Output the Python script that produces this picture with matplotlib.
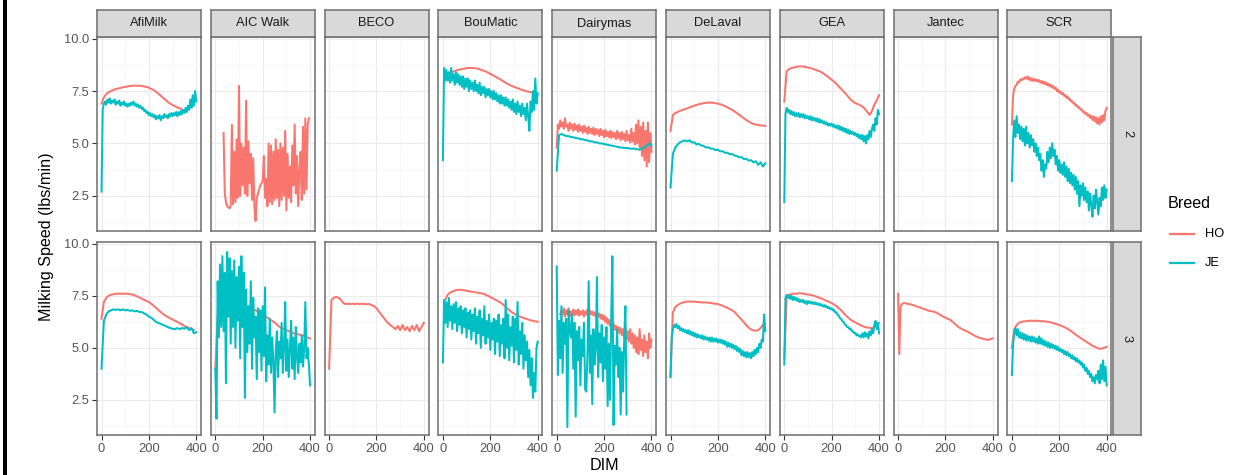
import numpy as np
import matplotlib
matplotlib.use('Agg')
import matplotlib.pyplot as plt
from matplotlib.lines import Line2D
from matplotlib.patches import Rectangle

plt.rcParams['font.family'] = ['Liberation Sans', 'DejaVu Sans']

# ---- data ----
brands = ['AfiMilk', 'AIC Walk', 'BECO', 'BouMatic', 'Dairymas', 'DeLaval', 'GEA', 'Jantec', 'SCR']
parities = ['2', '3']
breed_colors = {'HO': '#F8766D', 'JE': '#00BFC4'}

x_ticks = [0, 200, 400]
y_ticks = [2.5, 5.0, 7.5, 10.0]

dim10 = [0, 10, 20, 30, 40, 50, 60, 70, 80, 90,
         100, 110, 120, 130, 140, 150, 160, 170, 180, 190,
         200, 210, 220, 230, 240, 250, 260, 270, 280, 290,
         300, 310, 320, 330, 340, 350, 360, 370, 380, 390,
         400]
dim5 = [0, 5, 10, 15, 20, 25, 30, 35, 40, 45,
        50, 55, 60, 65, 70, 75, 80, 85, 90, 95,
        100, 105, 110, 115, 120, 125, 130, 135, 140, 145,
        150, 155, 160, 165, 170, 175, 180, 185, 190, 195,
        200, 205, 210, 215, 220, 225, 230, 235, 240, 245,
        250, 255, 260, 265, 270, 275, 280, 285, 290, 295,
        300, 305, 310, 315, 320, 325, 330, 335, 340, 345,
        350, 355, 360, 365, 370, 375, 380, 385, 390, 395,
        400]

# parity 2
afimilk_p2_ho = [6.9, 7.2, 7.35, 7.45, 7.5, 7.55, 7.6, 7.62, 7.65, 7.68,
                 7.7, 7.72, 7.74, 7.75, 7.76, 7.75, 7.76, 7.74, 7.72, 7.7,
                 7.66, 7.6, 7.55, 7.47, 7.38, 7.28, 7.18, 7.08, 6.98, 6.9,
                 6.83, 6.78, 6.72, 6.68, 6.62, 6.55, None, None, None, None,
                 None]
afimilk_p2_je = [2.7, 6.6, 6.9, 7.0, 6.85, 7.1, 6.95, 7.15, 6.9, 7.05,
                 6.95, 7.1, 6.85, 7.0, 6.9, 7.05, 6.8, 6.95, 6.85, 7.0,
                 6.8, 6.9, 6.75, 6.9, 6.8, 6.95, 6.85, 7.0, 6.8, 6.9,
                 6.75, 6.85, 6.7, 6.8, 6.65, 6.7, 6.55, 6.6, 6.45, 6.5,
                 6.35, 6.45, 6.3, 6.4, 6.25, 6.35, 6.15, 6.3, 6.2, 6.35,
                 6.1, 6.3, 6.2, 6.4, 6.25, 6.35, 6.2, 6.4, 6.3, 6.45,
                 6.3, 6.45, 6.35, 6.5, 6.3, 6.5, 6.35, 6.55, 6.4, 6.6,
                 6.45, 6.7, 6.5, 6.8, 6.6, 7.1, 6.7, 7.3, 6.8, 7.5,
                 7.0]
aicwalk_p2_ho = [None, None, None, None, None, None, None, 5.5, 2.6, 2.2,
                 2.0, 1.95, 1.9, 2.0, 5.9, 2.1, 4.6, 2.2, 5.2, 2.4,
                 7.75, 2.5, 5.0, 3.0, 4.8, 2.6, 7.05, 2.5, 5.1, 3.1,
                 4.5, 2.3, 4.3, 2.0, 1.3, 2.4, 2.6, 2.8, 3.0, 3.1,
                 3.2, 4.4, 2.4, 3.3, 2.0, 5.0, 2.2, 4.9, 2.1, 4.6,
                 2.3, 5.2, 2.4, 4.7, 2.0, 5.0, 2.3, 4.8, 2.5, 5.6,
                 1.8, 4.5, 2.4, 3.9, 2.2, 4.9, 3.0, 5.9, 2.6, 4.4,
                 2.0, 3.7, 4.6, 2.3, 5.8, 2.6, 6.2, 2.8, 5.9, 6.2,
                 None]
boumatic_p2_ho = [None, 8.2, 8.3, 8.35, 8.4, 8.45, 8.5, 8.52, 8.55, 8.57,
                  8.6, 8.6, 8.6, 8.6, 8.58, 8.56, 8.52, 8.48, 8.44, 8.38,
                  8.32, 8.26, 8.2, 8.13, 8.07, 8.0, 7.93, 7.86, 7.8, 7.75,
                  7.7, 7.66, 7.62, 7.57, 7.54, 7.5, 7.47, 7.45, 7.42, 7.4,
                  None]
boumatic_p2_je = [4.2, 8.6, 8.0, 8.5, 8.0, 8.4, 7.9, 8.6, 8.0, 8.3,
                  7.8, 8.4, 7.9, 8.3, 7.8, 8.2, 7.7, 8.2, 7.6, 8.1,
                  7.7, 8.1, 7.5, 8.0, 7.6, 7.9, 7.5, 8.0, 7.5, 7.8,
                  7.4, 7.9, 7.3, 7.7, 7.4, 7.7, 7.2, 7.6, 7.3, 7.6,
                  7.2, 7.5, 7.1, 7.5, 7.1, 7.4, 7.0, 7.3, 6.9, 7.3,
                  6.9, 7.2, 6.8, 7.2, 6.8, 7.1, 6.7, 7.0, 6.6, 7.1,
                  6.5, 6.9, 6.4, 7.0, 6.5, 6.8, 6.3, 6.9, 6.4, 6.7,
                  6.1, 6.9, 6.3, 5.6, 7.0, 6.5, 7.5, 6.6, 8.1, 6.9,
                  7.4]
dairymas_p2_ho = [4.8, 5.9, 5.7, 6.1, 5.8, 6.0, 5.7, 6.2, 5.8, 5.9,
                  5.6, 6.0, 5.7, 5.9, 5.6, 5.95, 5.65, 5.85, 5.55, 5.9,
                  5.6, 5.8, 5.5, 5.85, 5.55, 5.75, 5.45, 5.8, 5.5, 5.7,
                  5.45, 5.75, 5.4, 5.7, 5.45, 5.65, 5.35, 5.7, 5.4, 5.6,
                  5.3, 5.65, 5.35, 5.55, 5.3, 5.6, 5.25, 5.55, 5.3, 5.5,
                  5.2, 5.6, 5.25, 5.5, 5.15, 5.55, 5.2, 5.45, 5.1, 5.6,
                  5.15, 5.4, 5.05, 5.7, 5.1, 5.5, 4.95, 5.9, 5.0, 6.1,
                  4.8, 5.8, 4.4, 6.0, 4.2, 5.6, 3.9, 6.0, 4.1, 5.5,
                  4.6]
dairymas_p2_je = [3.7, 5.4, 5.45, 5.4, 5.35, 5.35, 5.3, 5.3, 5.25, 5.25,
                  5.2, 5.2, 5.15, 5.15, 5.1, 5.1, 5.05, 5.05, 5.0, 5.0,
                  4.97, 4.95, 4.92, 4.9, 4.88, 4.85, 4.83, 4.8, 4.8, 4.78,
                  4.78, 4.75, 4.75, 4.75, 4.72, 4.7, 4.75, 4.8, 4.9, 5.0,
                  4.9]
delaval_p2_ho = [5.6, 6.35, 6.45, 6.5, 6.55, 6.6, 6.63, 6.67, 6.72, 6.76,
                 6.8, 6.84, 6.87, 6.9, 6.92, 6.94, 6.95, 6.95, 6.94, 6.92,
                 6.9, 6.87, 6.83, 6.78, 6.72, 6.66, 6.6, 6.53, 6.45, 6.37,
                 6.28, 6.2, 6.12, 6.05, 5.98, 5.93, 5.9, 5.88, 5.86, 5.85,
                 5.84]
delaval_p2_je = [2.9, 4.5, 4.8, 4.95, 5.05, 5.1, 5.15, 5.1, 5.15, 5.05,
                 5.05, 4.95, 4.98, 4.9, 4.88, 4.8, 4.82, 4.75, 4.75, 4.68,
                 4.7, 4.62, 4.63, 4.55, 4.56, 4.48, 4.5, 4.42, 4.4, 4.33,
                 4.35, 4.25, 4.27, 4.18, 4.2, 4.1, 4.15, 3.98, 4.1, 3.9,
                 4.05]
gea_p2_ho = [7.0, 8.45, 8.55, 8.6, 8.62, 8.65, 8.67, 8.68, 8.67, 8.65,
             8.62, 8.6, 8.56, 8.52, 8.48, 8.44, 8.38, 8.3, 8.22, 8.13,
             8.04, 7.95, 7.84, 7.72, 7.6, 7.48, 7.36, 7.23, 7.1, 7.0,
             6.92, 6.88, 6.82, 6.76, 6.65, 6.5, 6.36, 6.55, 6.85, 7.05,
             7.3]
gea_p2_je = [2.2, 6.4, 6.7, 6.5, 6.6, 6.4, 6.55, 6.35, 6.5, 6.3,
             6.45, 6.3, 6.45, 6.25, 6.4, 6.25, 6.4, 6.2, 6.35, 6.2,
             6.3, 6.15, 6.3, 6.1, 6.25, 6.1, 6.2, 6.05, 6.2, 6.0,
             6.15, 6.0, 6.1, 5.95, 6.05, 5.9, 6.0, 5.85, 5.95, 5.85,
             5.95, 5.8, 5.9, 5.75, 5.85, 5.7, 5.85, 5.65, 5.8, 5.6,
             5.75, 5.55, 5.7, 5.5, 5.65, 5.45, 5.6, 5.45, 5.55, 5.4,
             5.5, 5.35, 5.45, 5.25, 5.4, 5.2, 5.4, 5.1, 5.35, 5.0,
             5.4, 5.2, 5.6, 5.3, 5.7, 5.9, 5.6, 6.2, 5.9, 6.6,
             6.4]
scr_p2_ho = [5.9, 7.3, 7.6, 7.75, 7.8, 7.95, 7.9, 8.05, 8.0, 8.1,
             8.05, 8.15, 8.1, 8.2, 8.05, 8.15, 8.0, 8.1, 7.98, 8.08,
             7.97, 8.05, 7.95, 8.02, 7.9, 7.98, 7.86, 7.95, 7.82, 7.9,
             7.78, 7.85, 7.72, 7.8, 7.66, 7.74, 7.6, 7.66, 7.5, 7.56,
             7.42, 7.48, 7.35, 7.4, 7.27, 7.32, 7.18, 7.24, 7.1, 7.12,
             7.0, 7.02, 6.9, 6.92, 6.8, 6.82, 6.7, 6.72, 6.6, 6.62,
             6.5, 6.52, 6.4, 6.45, 6.32, 6.38, 6.22, 6.32, 6.12, 6.3,
             6.05, 6.25, 5.95, 6.2, 5.9, 6.3, 6.0, 6.35, 6.1, 6.55,
             6.7]
scr_p2_je = [3.2, 5.2, 6.1, 5.3, 6.3, 5.5, 5.9, 5.2, 5.8, 5.1,
             5.7, 4.9, 5.8, 5.0, 5.5, 4.8, 5.4, 4.9, 5.2, 4.6,
             5.0, 4.4, 4.8, 4.2, 4.5, 3.7, 4.2, 3.4, 4.0, 3.8,
             4.6, 4.1, 4.8, 4.3, 5.0, 4.4, 4.7, 4.0, 4.4, 3.7,
             4.2, 3.6, 4.0, 3.5, 4.1, 3.4, 3.9, 3.2, 3.8, 3.1,
             3.6, 3.0, 3.5, 2.8, 3.4, 2.6, 3.2, 2.0, 3.0, 2.5,
             3.1, 2.3, 2.9, 2.2, 2.7, 1.8, 2.6, 2.1, 1.5, 2.5,
             1.9, 2.8, 2.2, 1.6, 2.4, 2.0, 2.9, 2.3, 3.0, 2.4,
             2.8]

# parity 3
afimilk_p3_ho = [6.4, 7.2, 7.4, 7.5, 7.55, 7.57, 7.6, 7.6, 7.6, 7.6,
                 7.6, 7.6, 7.58, 7.56, 7.52, 7.47, 7.42, 7.36, 7.3, 7.25,
                 7.2, 7.12, 7.02, 6.92, 6.82, 6.72, 6.63, 6.55, 6.48, 6.42,
                 6.36, 6.3, 6.25, 6.18, 6.12, 6.05, 6.0, 5.95, 5.9, 5.85,
                 None]
afimilk_p3_je = [4.0, 6.3, 6.6, 6.75, 6.8, 6.85, 6.82, 6.85, 6.8, 6.85,
                 6.8, 6.82, 6.78, 6.8, 6.75, 6.78, 6.72, 6.72, 6.65, 6.6,
                 6.5, 6.45, 6.35, 6.25, 6.2, 6.15, 6.1, 6.05, 6.0, 5.95,
                 5.92, 5.9, 5.95, 5.9, 5.95, 5.92, 6.0, 5.85, 5.95, 5.7,
                 5.75]
aicwalk_p3_ho = [4.0, 6.5, 7.2, 7.4, 7.45, 7.4, 7.35, 7.3, 7.25, 7.2,
                 7.15, 7.1, 7.05, 7.0, 6.95, 6.9, 6.85, 6.8, 6.72, 6.67,
                 6.6, 6.52, 6.45, 6.37, 6.3, 6.22, 6.12, 6.02, 5.95, 5.9,
                 5.85, 5.8, 5.75, 5.7, 5.68, 5.65, 5.62, 5.6, 5.55, 5.5,
                 5.45]
aicwalk_p3_je = [4.0, 1.6, 8.2, 5.5, 9.0, 6.0, 9.4, 5.8, 8.6, 3.3,
                 9.6, 6.5, 9.3, 5.2, 8.7, 6.0, 9.2, 5.0, 8.4, 6.3,
                 8.9, 4.5, 9.4, 6.0, 8.6, 2.6, 7.8, 4.8, 7.0, 5.2,
                 8.2, 4.0, 7.4, 5.5, 6.5, 3.5, 6.9, 4.8, 6.8, 3.9,
                 7.0, 4.6, 7.9, 3.4, 5.6, 4.2, 6.4, 3.8, 5.5, 4.4,
                 1.9, 4.8, 5.8, 3.6, 5.3, 4.5, 6.2, 3.8, 5.0, 7.2,
                 3.9, 5.4, 3.6, 4.9, 6.3, 4.0, 5.5, 3.5, 6.0, 4.6,
                 3.8, 5.2, 4.3, 5.6, 4.1, 4.9, 7.2, 4.5, 5.0, 4.2,
                 3.2]
beco_p3_ho = [4.0, 7.3, 7.4, 7.45, 7.4, 7.3, 7.15, 7.1, 7.12, 7.1,
              7.12, 7.1, 7.12, 7.1, 7.12, 7.1, 7.1, 7.1, 7.05, 7.0,
              6.9, 6.75, 6.6, 6.45, 6.3, 6.18, 6.08, 6.0, 5.9, 6.05,
              5.85, 6.1, 5.85, 6.0, 5.8, 6.05, 5.85, 6.1, 5.8, 6.0,
              6.2]
boumatic_p3_ho = [None, 7.3, 7.55, 7.65, 7.7, 7.75, 7.78, 7.79, 7.78, 7.76,
                  7.74, 7.72, 7.7, 7.68, 7.66, 7.64, 7.62, 7.6, 7.55, 7.5,
                  7.44, 7.38, 7.32, 7.26, 7.2, 7.12, 7.02, 6.92, 6.82, 6.72,
                  6.65, 6.58, 6.52, 6.48, 6.44, 6.4, 6.36, 6.32, 6.3, 6.27,
                  6.25]
boumatic_p3_je = [4.3, 7.3, 6.2, 7.2, 6.0, 7.4, 6.3, 7.0, 5.9, 7.1,
                  6.2, 7.2, 5.8, 6.9, 6.1, 7.0, 5.7, 6.8, 6.0, 6.9,
                  5.5, 6.7, 5.9, 6.8, 5.4, 6.6, 5.8, 6.9, 5.2, 6.5,
                  5.7, 6.8, 5.0, 6.4, 5.6, 7.0, 5.2, 6.3, 5.5, 6.6,
                  4.9, 6.2, 5.4, 6.4, 4.7, 6.3, 5.3, 6.6, 4.6, 6.1,
                  5.2, 6.4, 4.5, 7.3, 5.0, 6.6, 4.4, 6.0, 5.1, 6.5,
                  4.3, 6.4, 4.9, 7.2, 4.2, 5.8, 4.7, 6.2, 4.0, 5.6,
                  4.4, 5.3, 3.6, 4.9, 3.2, 4.5, 2.6, 3.8, 2.9, 5.0,
                  5.3]
dairymas_p3_ho = [None, None, None, 6.6, 6.8, 6.6, 6.9, 6.5, 6.8, 6.6,
                  6.9, 6.5, 6.75, 6.6, 6.85, 6.55, 6.8, 6.6, 6.85, 6.55,
                  6.75, 6.6, 6.8, 6.5, 6.75, 6.6, 6.85, 6.55, 6.8, 6.6,
                  6.75, 6.55, 6.7, 6.5, 6.7, 6.5, 6.65, 6.4, 6.6, 6.35,
                  6.55, 6.25, 6.45, 6.15, 6.35, 6.05, 6.25, 5.95, 6.15, 5.85,
                  6.05, 5.8, 6.0, 5.7, 5.95, 5.6, 5.9, 5.5, 6.0, 5.4,
                  5.8, 5.3, 5.9, 5.2, 5.7, 5.0, 5.6, 4.8, 5.5, 4.7,
                  5.9, 4.9, 5.4, 4.6, 5.6, 4.8, 5.3, 4.5, 5.7, 5.0,
                  5.4]
dairymas_p3_je = [8.9, 3.7, 6.3, 4.5, 7.0, 3.8, 6.2, 5.2, 6.4, 1.2,
                  6.8, 6.0, 5.5, 6.6, 4.0, 6.2, 1.7, 5.8, 4.4, 6.0,
                  3.2, 5.4, 4.6, 6.2, 3.0, 2.9, 4.8, 8.2, 3.8, 5.6,
                  2.3, 5.9, 4.2, 5.0, 8.4, 3.6, 5.7, 4.3, 6.1, 3.4,
                  5.5, 4.0, 6.0, 2.2, 5.2, 2.5, 6.4, 9.4, 1.3, 5.1,
                  4.2, 5.9, 3.6, 5.0, 1.8, 4.8, 2.9, 5.5, 7.0, 1.8,
                  None, None, None, None, None, None, None, None, None, None,
                  None, None, None, None, None, None, None, None, None, None,
                  None]
delaval_p3_ho = [3.6, 6.7, 6.95, 7.05, 7.12, 7.17, 7.2, 7.22, 7.22, 7.22,
                 7.22, 7.2, 7.2, 7.18, 7.18, 7.18, 7.17, 7.15, 7.13, 7.12,
                 7.1, 7.06, 7.02, 6.97, 6.92, 6.86, 6.8, 6.73, 6.6, 6.47,
                 6.35, 6.22, 6.08, 5.97, 5.88, 5.84, 5.82, 5.85, 5.95, 6.1,
                 None]
delaval_p3_je = [3.6, 5.5, 5.9, 6.1, 6.0, 6.15, 5.95, 6.05, 5.85, 5.95,
                 5.8, 5.9, 5.75, 5.85, 5.7, 5.85, 5.65, 5.8, 5.6, 5.75,
                 5.55, 5.7, 5.5, 5.65, 5.5, 5.6, 5.45, 5.6, 5.4, 5.55,
                 5.4, 5.5, 5.35, 5.5, 5.3, 5.5, 5.3, 5.45, 5.3, 5.45,
                 5.25, 5.4, 5.25, 5.4, 5.2, 5.35, 5.15, 5.3, 5.05, 5.25,
                 5.05, 5.2, 5.0, 5.15, 4.95, 5.1, 4.85, 5.0, 4.8, 4.95,
                 4.65, 4.85, 4.6, 4.8, 4.55, 4.8, 4.55, 4.75, 4.5, 4.8,
                 4.6, 4.9, 4.7, 5.0, 4.8, 5.2, 5.0, 5.4, 5.3, 6.6,
                 5.8]
gea_p3_ho = [4.5, 7.45, 7.55, 7.58, 7.6, 7.6, 7.62, 7.62, 7.6, 7.58,
             7.56, 7.54, 7.52, 7.48, 7.44, 7.4, 7.35, 7.3, 7.25, 7.2,
             7.15, 7.08, 7.0, 6.9, 6.8, 6.68, 6.56, 6.45, 6.35, 6.28,
             6.22, 6.16, 6.1, 6.05, 6.0, 5.98, 5.96, 5.95, 6.0, 6.1,
             6.2]
gea_p3_je = [4.2, 7.4, 7.55, 7.4, 7.5, 7.35, 7.5, 7.3, 7.45, 7.3,
             7.4, 7.25, 7.35, 7.2, 7.3, 7.2, 7.3, 7.15, 7.25, 7.1,
             7.25, 7.15, 7.22, 7.12, 7.2, 7.1, 7.18, 7.08, 7.15, 7.05,
             7.12, 7.02, 7.08, 6.98, 7.05, 6.95, 7.0, 6.9, 6.95, 6.85,
             6.9, 6.8, 6.82, 6.7, 6.7, 6.58, 6.55, 6.42, 6.4, 6.28,
             6.25, 6.12, 6.1, 6.0, 6.0, 5.9, 5.92, 5.8, 5.8, 5.7,
             5.72, 5.6, 5.65, 5.55, 5.6, 5.5, 5.7, 5.5, 5.75, 5.55,
             5.7, 5.45, 5.8, 5.6, 5.9, 5.7, 6.1, 6.3, 5.9, 6.2,
             5.7]
jantec_p3_ho = [7.6, 4.7, 6.95, 7.1, 7.12, 7.15, 7.14, 7.13, 7.12, 7.1,
                7.1, 7.08, 7.06, 7.05, 7.03, 7.0, 6.98, 6.96, 6.95, 6.93,
                6.9, 6.88, 6.86, 6.84, 6.82, 6.8, 6.78, 6.77, 6.76, 6.75,
                6.74, 6.72, 6.7, 6.67, 6.64, 6.6, 6.57, 6.54, 6.5, 6.47,
                6.45, 6.42, 6.4, 6.37, 6.35, 6.3, 6.25, 6.2, 6.15, 6.1,
                6.05, 6.0, 5.97, 5.93, 5.9, 5.87, 5.85, 5.82, 5.8, 5.77,
                5.74, 5.7, 5.67, 5.64, 5.6, 5.57, 5.55, 5.52, 5.5, 5.48,
                5.46, 5.45, 5.43, 5.42, 5.4, 5.4, 5.38, 5.4, 5.42, 5.45,
                5.45]
scr_p3_ho = [5.0, 5.9, 6.1, 6.2, 6.25, 6.27, 6.28, 6.3, 6.3, 6.3,
             6.3, 6.3, 6.28, 6.28, 6.27, 6.25, 6.24, 6.2, 6.17, 6.13,
             6.1, 6.05, 6.0, 5.95, 5.88, 5.8, 5.72, 5.63, 5.55, 5.47,
             5.4, 5.32, 5.25, 5.18, 5.1, 5.05, 5.0, 4.95, 4.97, 5.0,
             5.05]
scr_p3_je = [3.7, 5.2, 5.7, 5.95, 5.6, 5.9, 5.5, 5.75, 5.45, 5.7,
             5.4, 5.65, 5.35, 5.6, 5.35, 5.55, 5.3, 5.55, 5.3, 5.5,
             5.25, 5.45, 5.2, 5.55, 5.2, 5.45, 5.15, 5.35, 5.1, 5.3,
             5.05, 5.25, 5.0, 5.2, 5.0, 5.15, 4.95, 5.1, 4.9, 5.05,
             4.85, 4.95, 4.8, 4.9, 4.7, 4.85, 4.65, 4.8, 4.6, 4.7,
             4.5, 4.65, 4.45, 4.55, 4.35, 4.5, 4.3, 4.4, 4.2, 4.3,
             4.05, 4.2, 3.9, 4.05, 3.75, 3.9, 3.6, 3.75, 3.4, 3.6,
             3.3, 3.7, 3.5, 3.9, 3.3, 4.2, 3.5, 4.4, 3.4, 4.1,
             3.2]

# (brand, parity, breed, DIM grid, speed)
series = [
    ('AfiMilk', '2', 'HO', dim10, afimilk_p2_ho),
    ('AfiMilk', '2', 'JE', dim5, afimilk_p2_je),
    ('AIC Walk', '2', 'HO', dim5, aicwalk_p2_ho),
    ('BouMatic', '2', 'HO', dim10, boumatic_p2_ho),
    ('BouMatic', '2', 'JE', dim5, boumatic_p2_je),
    ('Dairymas', '2', 'HO', dim5, dairymas_p2_ho),
    ('Dairymas', '2', 'JE', dim10, dairymas_p2_je),
    ('DeLaval', '2', 'HO', dim10, delaval_p2_ho),
    ('DeLaval', '2', 'JE', dim10, delaval_p2_je),
    ('GEA', '2', 'HO', dim10, gea_p2_ho),
    ('GEA', '2', 'JE', dim5, gea_p2_je),
    ('SCR', '2', 'HO', dim5, scr_p2_ho),
    ('SCR', '2', 'JE', dim5, scr_p2_je),
    ('AfiMilk', '3', 'HO', dim10, afimilk_p3_ho),
    ('AfiMilk', '3', 'JE', dim10, afimilk_p3_je),
    ('AIC Walk', '3', 'HO', dim10, aicwalk_p3_ho),
    ('AIC Walk', '3', 'JE', dim5, aicwalk_p3_je),
    ('BECO', '3', 'HO', dim10, beco_p3_ho),
    ('BouMatic', '3', 'HO', dim10, boumatic_p3_ho),
    ('BouMatic', '3', 'JE', dim5, boumatic_p3_je),
    ('Dairymas', '3', 'HO', dim5, dairymas_p3_ho),
    ('Dairymas', '3', 'JE', dim5, dairymas_p3_je),
    ('DeLaval', '3', 'HO', dim10, delaval_p3_ho),
    ('DeLaval', '3', 'JE', dim5, delaval_p3_je),
    ('GEA', '3', 'HO', dim10, gea_p3_ho),
    ('GEA', '3', 'JE', dim5, gea_p3_je),
    ('Jantec', '3', 'HO', dim5, jantec_p3_ho),
    ('SCR', '3', 'HO', dim10, scr_p3_ho),
    ('SCR', '3', 'JE', dim5, scr_p3_je),
]

# ---- layout (pixels of the 1255x475 picture) ----
W, H = 1255, 475
panel_left, panel_w, panel_step = 97, 104, 113.8
row_top = [37, 242]
row_bottom = [231, 435]
border = '#6E6E6E'


def frect(x0, y0, x1, y1):
    return [x0 / W, 1 - y1 / H, (x1 - x0) / W, (y1 - y0) / H]


fig = plt.figure(figsize=(W / 100, H / 100), dpi=100)

axes = {}
for r, parity in enumerate(parities):
    for k, brand in enumerate(brands):
        x0 = panel_left + k * panel_step
        ax = fig.add_axes(frect(x0, row_top[r], x0 + panel_w, row_bottom[r]))
        ax.set_xlim(-19, 420)
        ax.set_ylim(0.82, 10.08)
        ax.set_xticks(x_ticks)
        ax.set_xticks([100, 300], minor=True)
        ax.set_yticks(y_ticks)
        ax.set_yticks([1.25, 3.75, 6.25, 8.75], minor=True)
        ax.grid(which='major', color='#EBEBEB', lw=0.8)
        ax.grid(which='minor', color='#F4F4F4', lw=0.5)
        ax.set_axisbelow(True)
        for s in ax.spines.values():
            s.set_color(border)
            s.set_linewidth(1.1)
        ax.tick_params(which='minor', length=0)
        ax.tick_params(axis='both', which='major', length=3.5, width=0.8,
                       color='#333333', labelcolor='#555555', labelsize=9.3, pad=2)
        if r == len(parities) - 1:
            ax.set_xticklabels([str(v) for v in x_ticks])
        else:
            ax.tick_params(axis='x', length=0, labelbottom=False)
        if k == 0:
            ax.set_yticklabels(['%.1f' % v for v in y_ticks])
        else:
            ax.tick_params(axis='y', length=0, labelleft=False)
        axes[(brand, parity)] = ax

for brand, parity, breed, dim, speed in series:
    if len(dim) != len(speed):
        raise ValueError('%s %s %s: %d vs %d' % (brand, parity, breed, len(dim), len(speed)))
    ax = axes[(brand, parity)]
    ax.plot(dim, np.array(speed, dtype=float), color=breed_colors[breed], lw=1.45,
            zorder=2 if breed == 'HO' else 3)

# strips on top
for k, brand in enumerate(brands):
    x0 = panel_left + k * panel_step
    sax = fig.add_axes(frect(x0, 10, x0 + panel_w, row_top[0]))
    sax.set_facecolor('#D9D9D9')
    sax.set_xticks([])
    sax.set_yticks([])
    for s in sax.spines.values():
        s.set_color(border)
        s.set_linewidth(1.1)
    sax.text(0.5, 0.5, brand, ha='center', va='center', fontsize=9.3, color='#1A1A1A',
             transform=sax.transAxes)

# strips on the right
for r, parity in enumerate(parities):
    sax = fig.add_axes(frect(1113, row_top[r], 1141, row_bottom[r]))
    sax.set_facecolor('#D9D9D9')
    sax.set_xticks([])
    sax.set_yticks([])
    for s in sax.spines.values():
        s.set_color(border)
        s.set_linewidth(1.1)
    sax.text(0.5, 0.5, parity, ha='center', va='center', rotation=-90, fontsize=9.3,
             color='#1A1A1A', transform=sax.transAxes)

# axis titles
fig.text(47 / W, 1 - 237 / H, 'Milking Speed (lbs/min)', rotation=90, ha='center',
         va='center', fontsize=11.6)
fig.text(604 / W, 1 - 465 / H, 'DIM', ha='center', va='center', fontsize=11.6)

# legend
fig.text(1168 / W, 1 - 204 / H, 'Breed', ha='left', va='center', fontsize=11.6)
for i, breed in enumerate(['HO', 'JE']):
    yy = 1 - (234 + 29 * i) / H
    fig.add_artist(Line2D([1170 / W, 1194 / W], [yy, yy], color=breed_colors[breed], lw=1.6))
    fig.text(1205 / W, yy, breed, ha='left', va='center', fontsize=9.3)

# black edge on the left of the picture
fig.add_artist(Rectangle((3 / W, 0), 3.5 / W, 1, transform=fig.transFigure,
                         color='black', lw=0))

fig.savefig('out.png', dpi=100)
